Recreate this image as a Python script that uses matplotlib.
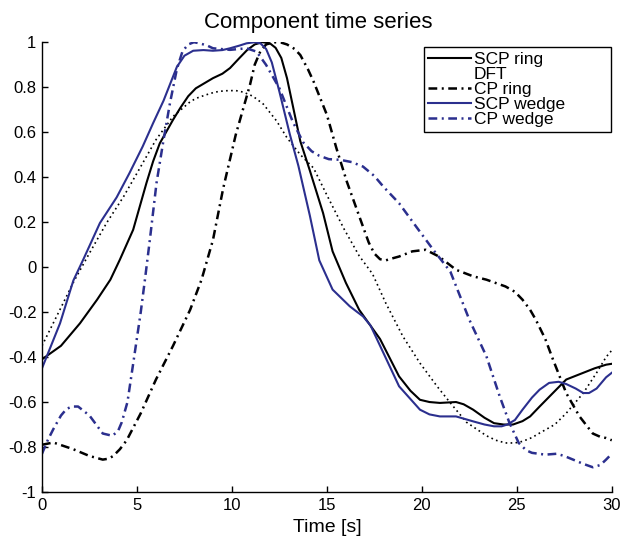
import numpy as np
import matplotlib
matplotlib.use("Agg")
import matplotlib.pyplot as plt
from matplotlib.lines import Line2D
from matplotlib.ticker import FuncFormatter

plt.rcParams["font.family"] = ["Liberation Sans", "DejaVu Sans"]
plt.rcParams["axes.unicode_minus"] = False

# ── Data ──────────────────────────────────────────────────────────────────────
t_scp_ring = [0, 1, 2, 2.9, 3.6, 4.1, 4.8, 5.15, 5.5, 5.85, 6.2, 6.9, 7.3, 7.7,
              8.1, 8.6, 9.0, 9.5, 9.9, 10.4, 10.8, 11.2, 11.6, 12.0, 12.3,
              12.6, 12.9, 13.2, 13.6, 14.1, 14.8, 15.3, 16.0, 16.7, 17.8,
              18.8, 19.4, 19.9, 20.4, 20.95, 21.8, 22.2, 22.7, 23.3, 23.8,
              24.3, 24.8, 25.3, 25.7, 26.2, 26.9, 27.6, 28.5, 29.1, 29.7, 30]
v_scp_ring = [-0.41, -0.35, -0.25, -0.145, -0.056, 0.033, 0.166, 0.27, 0.374,
              0.47, 0.55, 0.655, 0.71, 0.76, 0.795, 0.82, 0.84, 0.86, 0.885,
              0.93, 0.965, 0.99, 1.0, 0.995, 0.975, 0.93, 0.84, 0.72, 0.56,
              0.43, 0.24, 0.07, -0.07, -0.19, -0.32, -0.486, -0.55, -0.59,
              -0.60, -0.604, -0.60, -0.61, -0.634, -0.67, -0.694, -0.70,
              -0.70, -0.685, -0.664, -0.62, -0.56, -0.50, -0.47, -0.45,
              -0.434, -0.43]

t_dft = [0, 1, 1.7, 2.5, 3.4, 4.3, 5.2, 6.0, 6.9, 7.8, 8.1, 8.6, 9.1, 9.6,
         10.2, 10.6, 11.1, 11.65, 12.35, 12.9, 13.6, 14.3, 15.0, 15.9, 16.7,
         17.4, 18.1, 19.0, 19.9, 20.8, 21.5, 22.35, 23.4, 23.9, 24.4, 24.9,
         25.3, 25.8, 26.2, 27.0, 27.6, 28.5, 29.2, 29.7, 30]
v_dft = [-0.35, -0.18, -0.06, 0.062, 0.196, 0.314, 0.447, 0.566, 0.67, 0.735,
         0.75, 0.765, 0.778, 0.784, 0.785, 0.778, 0.76, 0.725, 0.65, 0.575,
         0.50, 0.44, 0.32, 0.17, 0.05, -0.03, -0.16, -0.308, -0.427, -0.53,
         -0.604, -0.69, -0.75, -0.77, -0.782, -0.782, -0.775, -0.758,
         -0.738, -0.70, -0.65, -0.56, -0.47, -0.40, -0.37]

t_cp_ring = [0, 0.6, 1.65, 2.5, 3.2, 3.5, 3.75, 4.1, 4.46, 5.2, 6.0, 6.9, 7.8,
             8.4, 9.0, 9.54, 10.2, 10.95, 11.2, 11.5, 11.8, 12.2, 12.6, 12.9,
             13.3, 13.6, 14.0, 14.3, 15.0, 15.5, 16.05, 16.9, 17.2, 17.5,
             17.8, 18.1, 18.5, 18.8, 19.5, 20.2, 20.9, 21.8, 22.7, 23.4,
             24.4, 24.9, 25.3, 25.7, 26.0, 26.5, 26.9, 27.6, 28.3, 29.0,
             29.4, 29.7, 30]
v_cp_ring = [-0.79, -0.78, -0.81, -0.84, -0.856, -0.852, -0.84, -0.81, -0.77,
             -0.65, -0.50, -0.35, -0.19, -0.056, 0.12, 0.35, 0.588, 0.81,
             0.90, 0.96, 0.99, 1.0, 0.998, 0.99, 0.97, 0.943, 0.88, 0.825,
             0.677, 0.529, 0.38, 0.18, 0.11, 0.06, 0.035, 0.03, 0.04, 0.047,
             0.07, 0.077, 0.047, -0.012, -0.041, -0.056, -0.086, -0.11,
             -0.145, -0.19, -0.234, -0.32, -0.41, -0.56, -0.664, -0.74,
             -0.755, -0.76, -0.77]

t_scp_wedge = [0, 0.95, 1.65, 2.17, 3.05, 3.93, 4.6, 5.3, 5.85, 6.4, 7.1, 7.5,
               7.96, 8.5, 9.0, 9.5, 9.9, 10.4, 10.77, 11.2, 11.5, 11.8, 12.1,
               12.5, 13.05, 13.5, 14.1, 14.6, 15.3, 16.2, 16.6, 16.9, 17.3,
               17.8, 18.8, 19.9, 20.4, 20.95, 21.8, 22.7, 23.3, 23.8, 24.2,
               24.5, 24.9, 25.3, 25.8, 26.2, 26.7, 27.2, 27.6, 28.1, 28.5,
               28.8, 29.2, 29.7, 30]
v_scp_wedge = [-0.45, -0.25, -0.06, 0.033, 0.196, 0.31, 0.417, 0.536, 0.64,
               0.74, 0.89, 0.94, 0.962, 0.965, 0.962, 0.965, 0.973, 0.985,
               0.995, 1.0, 0.995, 0.97, 0.91, 0.78, 0.59, 0.45, 0.23, 0.03,
               -0.10, -0.174, -0.20, -0.219, -0.26, -0.35, -0.53, -0.634,
               -0.655, -0.664, -0.664, -0.686, -0.70, -0.708, -0.708, -0.70,
               -0.68, -0.634, -0.58, -0.545, -0.515, -0.51, -0.52, -0.54,
               -0.56, -0.56, -0.54, -0.49, -0.47]

t_cp_wedge = [0, 0.3, 0.6, 1.0, 1.3, 1.6, 1.9, 2.5, 3.2, 3.7, 4.0, 4.2, 4.5,
              4.8, 5.2, 5.42, 5.68, 6.03, 6.4, 6.74, 7.1, 7.4, 7.7, 8.0, 8.3,
              8.7, 9.0, 9.9, 10.4, 10.77, 11.3, 11.8, 12.5, 13.2, 13.75, 14.2,
              14.6, 15.1, 15.7, 16.3, 16.9, 17.5, 17.97, 18.8, 19.7, 20.6,
              21.5, 22.5, 23.4, 24.1, 24.6, 25.1, 25.5, 25.8, 26.5, 27.1,
              27.5, 27.96, 28.5, 29.0, 29.4, 29.7, 30]
v_cp_wedge = [-0.83, -0.77, -0.72, -0.66, -0.63, -0.62, -0.62, -0.66, -0.74,
              -0.75, -0.73, -0.69, -0.60, -0.43, -0.2, -0.056, 0.122, 0.374,
              0.566, 0.73, 0.88, 0.96, 0.99, 1.0, 0.995, 0.985, 0.973, 0.966,
              0.97, 0.973, 0.958, 0.899, 0.795, 0.647, 0.555, 0.515, 0.495,
              0.48, 0.477, 0.467, 0.447, 0.405, 0.358, 0.284, 0.18, 0.077,
              -0.02, -0.234, -0.397, -0.575, -0.69, -0.782, -0.815, -0.826,
              -0.834, -0.83, -0.84, -0.856, -0.875, -0.89, -0.88, -0.856,
              -0.83]

BLUE = "#2b2f8e"
DASHDOT = (0, (3.5, 1.8, 0.8, 1.8))
DOTTED = (0, (1, 2))

# ── Plot ──────────────────────────────────────────────────────────────────────
fig = plt.figure(figsize=(6.23, 5.41), dpi=100)
ax = fig.add_axes([0.0674, 0.0906, 0.9146, 0.8314])

ax.plot(t_scp_ring, v_scp_ring, color="black", lw=1.5, label="SCP ring")
ax.plot(t_dft, v_dft, color="black", lw=1.2, linestyle=DOTTED, label="DFT")
ax.plot(t_cp_ring, v_cp_ring, color="black", lw=1.8, linestyle=DASHDOT,
        label="CP ring")
ax.plot(t_scp_wedge, v_scp_wedge, color=BLUE, lw=1.5, label="SCP wedge")
ax.plot(t_cp_wedge, v_cp_wedge, color=BLUE, lw=1.8, linestyle=DASHDOT,
        label="CP wedge")

ax.set_xlim(0, 30)
ax.set_ylim(-1, 1)
ax.set_xticks(np.arange(0, 31, 5))
ax.set_yticks(np.linspace(-1, 1, 11))
ax.yaxis.set_major_formatter(FuncFormatter(lambda v, p: f"{round(v, 1) + 0:g}"))
ax.tick_params(direction="in", length=4, width=1, labelsize=12, pad=4)
ax.spines[["top", "right"]].set_visible(False)
for s in ("left", "bottom"):
    ax.spines[s].set_linewidth(1.0)

ax.set_xlabel("Time [s]", fontsize=14, labelpad=5)
ax.set_title("Component time series", fontsize=16, pad=10)
ax.title.set_x(0.485)

# DFT sample is practically invisible in the reference legend
handles, labels = ax.get_legend_handles_labels()
handles[1] = Line2D([], [], color="none")
leg = ax.legend(handles, labels, loc="upper left", mode="expand",
                bbox_to_anchor=(0.670, 0.0, 0.328, 0.989),
                fontsize=12.5, frameon=True, fancybox=False, framealpha=1,
                edgecolor="black", labelspacing=0.0, handlelength=2.5,
                handletextpad=0.15, borderpad=0.25, borderaxespad=0)
leg.get_frame().set_linewidth(1.0)

fig.savefig("out.png", dpi=100)
